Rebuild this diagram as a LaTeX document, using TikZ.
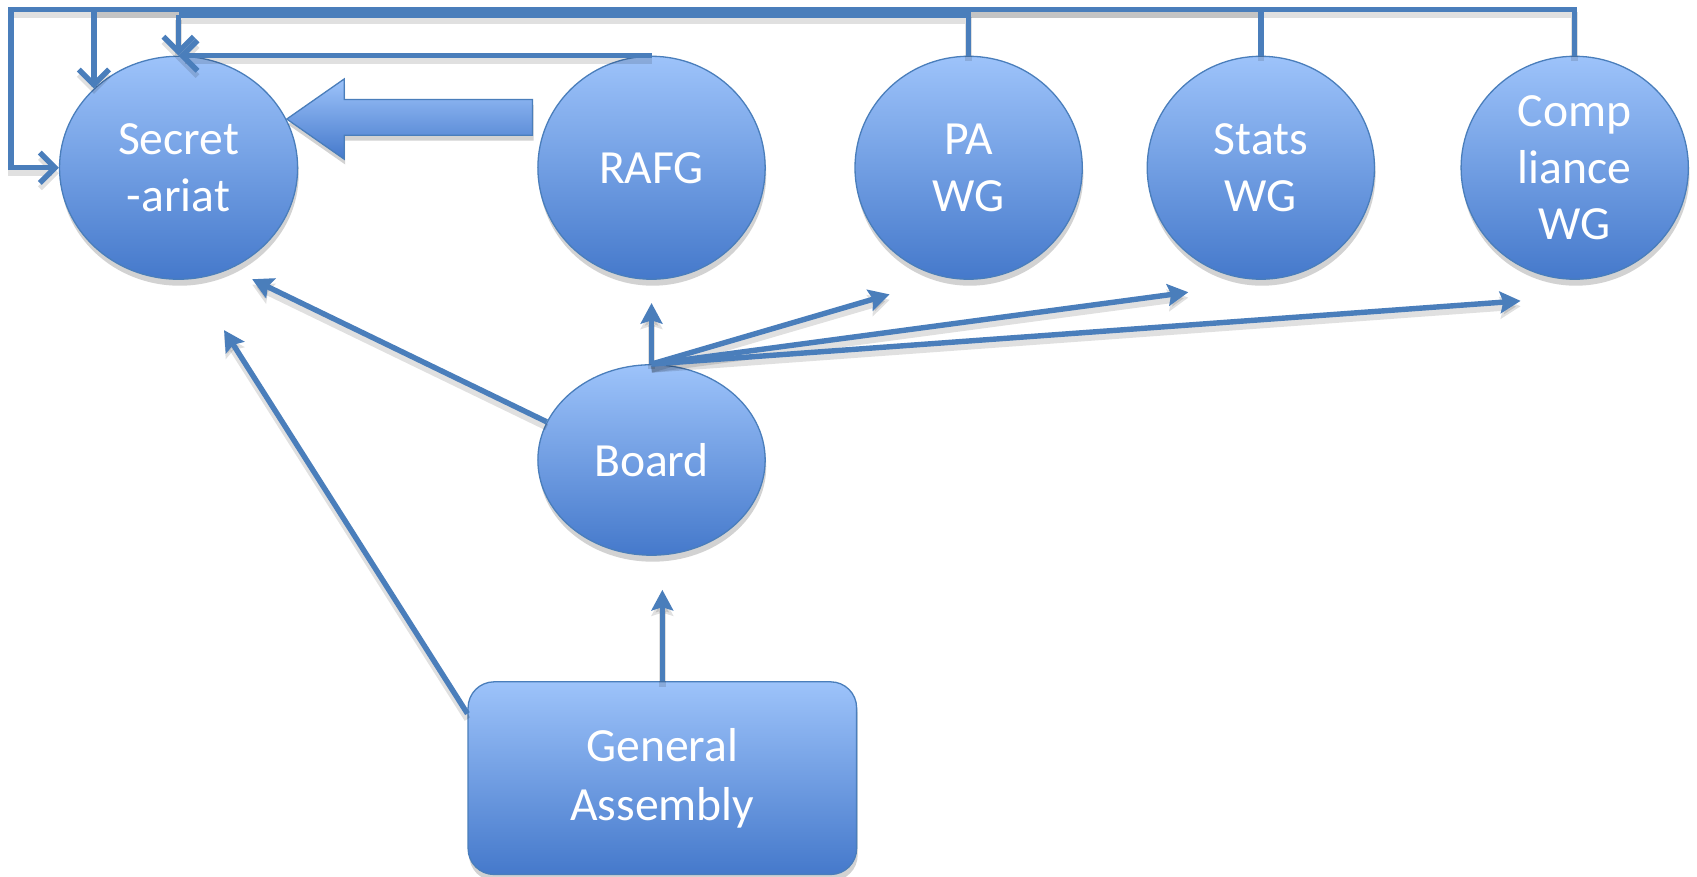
\documentclass[tikz,border=0pt]{standalone}
\usepackage{fontspec}
\setmainfont{Carlito}
\usetikzlibrary{arrows.meta,shadows,shapes.geometric}
\definecolor{edgec}{HTML}{4A7EBB}
\definecolor{topc}{HTML}{9DC3FA}
\definecolor{botc}{HTML}{4579CB}
\begin{document}
\begin{tikzpicture}[x=1pt,y=-1pt,
  blob/.style={ellipse,draw=edgec,line width=1.2pt,top color=topc,bottom color=botc,
    minimum width=210pt,minimum height=206pt,inner sep=0pt,text=white,align=center,
    font=\fontsize{44}{52}\selectfont,
    drop shadow={shadow xshift=1pt,shadow yshift=-6pt,opacity=.25,fill=black!70}},
  box/.style={rectangle,rounded corners=24pt,draw=edgec,line width=1.2pt,top color=topc,bottom color=botc,
    minimum width=359pt,minimum height=178pt,inner sep=0pt,text=white,align=center,
    font=\fontsize{44}{54}\selectfont,
    drop shadow={shadow xshift=1pt,shadow yshift=-6pt,opacity=.25,fill=black!70}},
  conn/.style={draw=edgec,line width=5pt,
    preaction={draw=black,opacity=.12,line width=6pt,transform canvas={yshift=-5pt}}},
  arr/.style={conn,-{Stealth[length=19pt,width=20pt,inset=3pt]}},
  varr/.style={conn,-{Straight Barb[length=14pt,width=28pt,line width=5pt]}}]
\useasboundingbox (0,0) rectangle (1568,810.3);
\fill[white] (0,0) rectangle (1568,810.3);

\coordinate (c1) at (10,8.8);
\coordinate (c3) at (0,13.9);

\node[blob,minimum width=220pt] (sec) at (165,155) {Secret\\-ariat};
\node[blob] (rafg) at (602,155) {RAFG};
\node[blob] (pa) at (895,155) {PA\\WG};
\node[blob] (stats) at (1165,155) {Stats\\WG};
\node[blob] (comp) at (1455,155) {Comp\\liance\\WG};
\node[blob,minimum height=176pt] (board) at (602,425) {Board};
\node[box] (ga) at (612,719) {General\\Assembly};

% top connectors
\draw[varr] (comp.north) |- (c1) |- (sec.west);
\draw[varr] (stats.north) |- (sec.north west |- c1) -- (sec.north west);
\draw[conn] (pa.north) |- (sec.north |- c3);
\draw[varr] (sec.north |- c3) -- (sec.north);
\draw[varr] (rafg.north) -- (sec.north);

% block arrow
\filldraw[draw=edgec,line width=1.2pt,top color=topc,bottom color=botc,
  drop shadow={shadow xshift=1pt,shadow yshift=-5pt,opacity=.25,fill=black!70}]
  (265,110) -- (318,73) -- (318,92) -- (492,92) -- (492,125) -- (318,125) -- (318,147) -- cycle;

% fan from board
\coordinate (t1) at (602,280);
\coordinate (t2) at (822,272);
\coordinate (t3) at (1098,270);
\coordinate (t4) at (1405,278);
\draw[arr] (board.north) -- (t1);
\draw[arr] (board.north) -- (t2);
\draw[arr] (board.north) -- (t3);
\draw[arr] (board.north) -- (t4);

% board and GA to secretariat
\coordinate (s1) at (233,258);
\coordinate (s2) at (207,305);
\coordinate (b1) at (612,545);
\draw[arr] (board.160) -- (s1);
\path (ga.north west) ++(0,30) coordinate (ganw);
\draw[arr] (ganw) -- (s2);
\draw[arr] (ga.north) -- (b1);
\end{tikzpicture}
\end{document}
